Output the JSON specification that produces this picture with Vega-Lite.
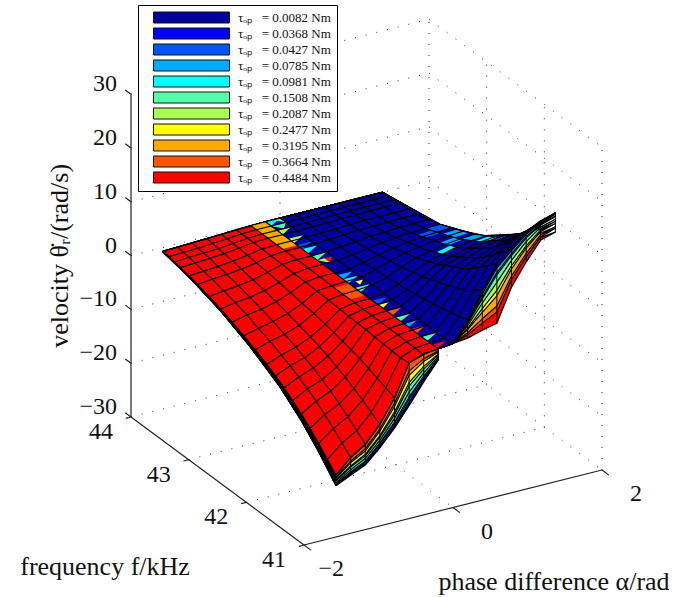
{"$schema":"https://vega.github.io/schema/vega-lite/v6.json","width":700,"height":597,"padding":0,"autosize":{"type":"none"},"background":"white","config":{"view":{"stroke":null}},
"datasets":{
"frame":[
{"id":"a1","a":-2,"f":41,"v":-30},{"id":"a1","a":2,"f":41,"v":-30},{"id":"a2","a":-2,"f":41,"v":-30},{"id":"a2","a":-2,"f":44,"v":-30},{"id":"a3","a":-2,"f":44,"v":-30},{"id":"a3","a":-2,"f":44,"v":30},
{"id":"t1","a":-2,"f":41,"v":-30},{"id":"t1","a":-2,"f":40.88,"v":-30},{"id":"t2","a":0,"f":41,"v":-30},{"id":"t2","a":0,"f":40.88,"v":-30},{"id":"t3","a":2,"f":41,"v":-30},{"id":"t3","a":2,"f":40.88,"v":-30},
{"id":"t4","a":-2,"f":41,"v":-30},{"id":"t4","a":-2.07,"f":41,"v":-30},{"id":"t5","a":-2,"f":42,"v":-30},{"id":"t5","a":-2.07,"f":42,"v":-30},{"id":"t6","a":-2,"f":43,"v":-30},{"id":"t6","a":-2.07,"f":43,"v":-30},{"id":"t7","a":-2,"f":44,"v":-30},{"id":"t7","a":-2.07,"f":44,"v":-30},
{"id":"z1","a":-2,"f":44,"v":-30},{"id":"z1","a":-2,"f":44.1,"v":-30},{"id":"z2","a":-2,"f":44,"v":-20},{"id":"z2","a":-2,"f":44.1,"v":-20},{"id":"z3","a":-2,"f":44,"v":-10},{"id":"z3","a":-2,"f":44.1,"v":-10},{"id":"z4","a":-2,"f":44,"v":0},{"id":"z4","a":-2,"f":44.1,"v":0},{"id":"z5","a":-2,"f":44,"v":10},{"id":"z5","a":-2,"f":44.1,"v":10},{"id":"z6","a":-2,"f":44,"v":20},{"id":"z6","a":-2,"f":44.1,"v":20},{"id":"z7","a":-2,"f":44,"v":30},{"id":"z7","a":-2,"f":44.1,"v":30}],
"dots":[
{"id":"f42","a":-2,"f":42,"v":-30},{"id":"f42","a":2,"f":42,"v":-30},{"id":"f43","a":-2,"f":43,"v":-30},{"id":"f43","a":2,"f":43,"v":-30},{"id":"f44","a":-2,"f":44,"v":-30},{"id":"f44","a":2,"f":44,"v":-30},
{"id":"fa0","a":0,"f":41,"v":-30},{"id":"fa0","a":0,"f":44,"v":-30},{"id":"fa2","a":2,"f":41,"v":-30},{"id":"fa2","a":2,"f":44,"v":-30},
{"id":"b1","a":-2,"f":44,"v":-20},{"id":"b1","a":2,"f":44,"v":-20},{"id":"b2","a":-2,"f":44,"v":-10},{"id":"b2","a":2,"f":44,"v":-10},{"id":"b3","a":-2,"f":44,"v":0},{"id":"b3","a":2,"f":44,"v":0},{"id":"b4","a":-2,"f":44,"v":10},{"id":"b4","a":2,"f":44,"v":10},{"id":"b5","a":-2,"f":44,"v":20},{"id":"b5","a":2,"f":44,"v":20},{"id":"b6","a":-2,"f":44,"v":30},{"id":"b6","a":2,"f":44,"v":30},
{"id":"b7","a":0,"f":44,"v":-30},{"id":"b7","a":0,"f":44,"v":30},{"id":"b8","a":2,"f":44,"v":-30},{"id":"b8","a":2,"f":44,"v":30},
{"id":"r1","a":2,"f":44,"v":-20},{"id":"r1","a":2,"f":41,"v":-20},{"id":"r2","a":2,"f":44,"v":-10},{"id":"r2","a":2,"f":41,"v":-10},{"id":"r3","a":2,"f":44,"v":0},{"id":"r3","a":2,"f":41,"v":0},{"id":"r4","a":2,"f":44,"v":10},{"id":"r4","a":2,"f":41,"v":10},{"id":"r5","a":2,"f":44,"v":20},{"id":"r5","a":2,"f":41,"v":20},{"id":"r6","a":2,"f":44,"v":30},{"id":"r6","a":2,"f":41,"v":30},
{"id":"r7","a":2,"f":41,"v":-30},{"id":"r7","a":2,"f":41,"v":30},{"id":"r8","a":2,"f":42,"v":-30},{"id":"r8","a":2,"f":42,"v":30},{"id":"r9","a":2,"f":43,"v":-30},{"id":"r9","a":2,"f":43,"v":30}],
"sheets":[
{"tau":"0.4484","s":"R","a":-0.196,"f":41,"v":0.2},{"tau":"0.4484","s":"R","a":0,"f":41,"v":0.5},{"tau":"0.4484","s":"R","a":0.196,"f":41,"v":0.8},{"tau":"0.4484","s":"R","a":0.393,"f":41,"v":1.6},{"tau":"0.4484","s":"R","a":0.589,"f":41,"v":2.2},{"tau":"0.4484","s":"R","a":0.785,"f":41,"v":8.2},{"tau":"0.4484","s":"R","a":0.982,"f":41,"v":12.2},{"tau":"0.4484","s":"R","a":1.178,"f":41,"v":15.6},{"tau":"0.4484","s":"R","a":1.374,"f":41,"v":16.4},{"tau":"0.4484","s":"R","a":1.374,"f":41.6,"v":9.3},{"tau":"0.4484","s":"R","a":1.374,"f":42.3,"v":4.5},{"tau":"0.4484","s":"R","a":1.374,"f":43,"v":1.6},{"tau":"0.4484","s":"R","a":1.374,"f":44,"v":0},{"tau":"0.4484","s":"R","a":-0.196,"f":44,"v":0},
{"tau":"0.3664","s":"R","a":-0.196,"f":41,"v":0.2},{"tau":"0.3664","s":"R","a":0,"f":41,"v":0.5},{"tau":"0.3664","s":"R","a":0.196,"f":41,"v":1.4},{"tau":"0.3664","s":"R","a":0.393,"f":41,"v":2.9},{"tau":"0.3664","s":"R","a":0.589,"f":41,"v":4.3},{"tau":"0.3664","s":"R","a":0.785,"f":41,"v":9.6},{"tau":"0.3664","s":"R","a":0.982,"f":41,"v":13.2},{"tau":"0.3664","s":"R","a":1.178,"f":41,"v":16.2},{"tau":"0.3664","s":"R","a":1.374,"f":41,"v":17.1},{"tau":"0.3664","s":"R","a":1.374,"f":41.6,"v":9.7},{"tau":"0.3664","s":"R","a":1.374,"f":42.3,"v":4.7},{"tau":"0.3664","s":"R","a":1.374,"f":43,"v":1.7},{"tau":"0.3664","s":"R","a":1.374,"f":44,"v":0},{"tau":"0.3664","s":"R","a":-0.196,"f":44,"v":0},
{"tau":"0.3195","s":"R","a":-0.196,"f":41,"v":0.2},{"tau":"0.3195","s":"R","a":0,"f":41,"v":0.5},{"tau":"0.3195","s":"R","a":0.196,"f":41,"v":1.8},{"tau":"0.3195","s":"R","a":0.393,"f":41,"v":3.7},{"tau":"0.3195","s":"R","a":0.589,"f":41,"v":5.4},{"tau":"0.3195","s":"R","a":0.785,"f":41,"v":10.3},{"tau":"0.3195","s":"R","a":0.982,"f":41,"v":13.8},{"tau":"0.3195","s":"R","a":1.178,"f":41,"v":16.6},{"tau":"0.3195","s":"R","a":1.374,"f":41,"v":17.4},{"tau":"0.3195","s":"R","a":1.374,"f":41.6,"v":9.9},{"tau":"0.3195","s":"R","a":1.374,"f":42.3,"v":4.8},{"tau":"0.3195","s":"R","a":1.374,"f":43,"v":1.7},{"tau":"0.3195","s":"R","a":1.374,"f":44,"v":0},{"tau":"0.3195","s":"R","a":-0.196,"f":44,"v":0},
{"tau":"0.2477","s":"R","a":-0.196,"f":41,"v":0.2},{"tau":"0.2477","s":"R","a":0,"f":41,"v":0.5},{"tau":"0.2477","s":"R","a":0.196,"f":41,"v":2.4},{"tau":"0.2477","s":"R","a":0.393,"f":41,"v":4.9},{"tau":"0.2477","s":"R","a":0.589,"f":41,"v":7.3},{"tau":"0.2477","s":"R","a":0.785,"f":41,"v":11.6},{"tau":"0.2477","s":"R","a":0.982,"f":41,"v":14.8},{"tau":"0.2477","s":"R","a":1.178,"f":41,"v":17.2},{"tau":"0.2477","s":"R","a":1.374,"f":41,"v":18},{"tau":"0.2477","s":"R","a":1.374,"f":41.6,"v":10.3},{"tau":"0.2477","s":"R","a":1.374,"f":42.3,"v":5},{"tau":"0.2477","s":"R","a":1.374,"f":43,"v":1.8},{"tau":"0.2477","s":"R","a":1.374,"f":44,"v":0},{"tau":"0.2477","s":"R","a":-0.196,"f":44,"v":0},
{"tau":"0.2087","s":"R","a":-0.196,"f":41,"v":0.2},{"tau":"0.2087","s":"R","a":0,"f":41,"v":0.5},{"tau":"0.2087","s":"R","a":0.196,"f":41,"v":2.6},{"tau":"0.2087","s":"R","a":0.393,"f":41,"v":5.6},{"tau":"0.2087","s":"R","a":0.589,"f":41,"v":8.3},{"tau":"0.2087","s":"R","a":0.785,"f":41,"v":12.2},{"tau":"0.2087","s":"R","a":0.982,"f":41,"v":15.2},{"tau":"0.2087","s":"R","a":1.178,"f":41,"v":17.5},{"tau":"0.2087","s":"R","a":1.374,"f":41,"v":18.4},{"tau":"0.2087","s":"R","a":1.374,"f":41.6,"v":10.5},{"tau":"0.2087","s":"R","a":1.374,"f":42.3,"v":5.1},{"tau":"0.2087","s":"R","a":1.374,"f":43,"v":1.8},{"tau":"0.2087","s":"R","a":1.374,"f":44,"v":0},{"tau":"0.2087","s":"R","a":-0.196,"f":44,"v":0},
{"tau":"0.1508","s":"R","a":-0.196,"f":41,"v":0.2},{"tau":"0.1508","s":"R","a":0,"f":41,"v":0.5},{"tau":"0.1508","s":"R","a":0.196,"f":41,"v":3.1},{"tau":"0.1508","s":"R","a":0.393,"f":41,"v":6.6},{"tau":"0.1508","s":"R","a":0.589,"f":41,"v":9.8},{"tau":"0.1508","s":"R","a":0.785,"f":41,"v":13.2},{"tau":"0.1508","s":"R","a":0.982,"f":41,"v":16},{"tau":"0.1508","s":"R","a":1.178,"f":41,"v":18},{"tau":"0.1508","s":"R","a":1.374,"f":41,"v":18.8},{"tau":"0.1508","s":"R","a":1.374,"f":41.6,"v":10.7},{"tau":"0.1508","s":"R","a":1.374,"f":42.3,"v":5.2},{"tau":"0.1508","s":"R","a":1.374,"f":43,"v":1.9},{"tau":"0.1508","s":"R","a":1.374,"f":44,"v":0},{"tau":"0.1508","s":"R","a":-0.196,"f":44,"v":0},
{"tau":"0.0981","s":"R","a":-0.196,"f":41,"v":0.2},{"tau":"0.0981","s":"R","a":0,"f":41,"v":0.5},{"tau":"0.0981","s":"R","a":0.196,"f":41,"v":3.5},{"tau":"0.0981","s":"R","a":0.393,"f":41,"v":7.4},{"tau":"0.0981","s":"R","a":0.589,"f":41,"v":11.2},{"tau":"0.0981","s":"R","a":0.785,"f":41,"v":14.1},{"tau":"0.0981","s":"R","a":0.982,"f":41,"v":16.7},{"tau":"0.0981","s":"R","a":1.178,"f":41,"v":18.4},{"tau":"0.0981","s":"R","a":1.374,"f":41,"v":19.3},{"tau":"0.0981","s":"R","a":1.374,"f":41.6,"v":11},{"tau":"0.0981","s":"R","a":1.374,"f":42.3,"v":5.3},{"tau":"0.0981","s":"R","a":1.374,"f":43,"v":1.9},{"tau":"0.0981","s":"R","a":1.374,"f":44,"v":0},{"tau":"0.0981","s":"R","a":-0.196,"f":44,"v":0},
{"tau":"0.0785","s":"R","a":-0.196,"f":41,"v":0.2},{"tau":"0.0785","s":"R","a":0,"f":41,"v":0.5},{"tau":"0.0785","s":"R","a":0.196,"f":41,"v":3.7},{"tau":"0.0785","s":"R","a":0.393,"f":41,"v":7.7},{"tau":"0.0785","s":"R","a":0.589,"f":41,"v":11.6},{"tau":"0.0785","s":"R","a":0.785,"f":41,"v":14.4},{"tau":"0.0785","s":"R","a":0.982,"f":41,"v":16.9},{"tau":"0.0785","s":"R","a":1.178,"f":41,"v":18.5},{"tau":"0.0785","s":"R","a":1.374,"f":41,"v":19.4},{"tau":"0.0785","s":"R","a":1.374,"f":41.6,"v":11.1},{"tau":"0.0785","s":"R","a":1.374,"f":42.3,"v":5.3},{"tau":"0.0785","s":"R","a":1.374,"f":43,"v":1.9},{"tau":"0.0785","s":"R","a":1.374,"f":44,"v":0},{"tau":"0.0785","s":"R","a":-0.196,"f":44,"v":0},
{"tau":"0.0427","s":"R","a":-0.196,"f":41,"v":0.2},{"tau":"0.0427","s":"R","a":0,"f":41,"v":0.5},{"tau":"0.0427","s":"R","a":0.196,"f":41,"v":3.9},{"tau":"0.0427","s":"R","a":0.393,"f":41,"v":8.3},{"tau":"0.0427","s":"R","a":0.589,"f":41,"v":12.5},{"tau":"0.0427","s":"R","a":0.785,"f":41,"v":15},{"tau":"0.0427","s":"R","a":0.982,"f":41,"v":17.4},{"tau":"0.0427","s":"R","a":1.178,"f":41,"v":18.8},{"tau":"0.0427","s":"R","a":1.374,"f":41,"v":19.7},{"tau":"0.0427","s":"R","a":1.374,"f":41.6,"v":11.2},{"tau":"0.0427","s":"R","a":1.374,"f":42.3,"v":5.4},{"tau":"0.0427","s":"R","a":1.374,"f":43,"v":2},{"tau":"0.0427","s":"R","a":1.374,"f":44,"v":0},{"tau":"0.0427","s":"R","a":-0.196,"f":44,"v":0},
{"tau":"0.0368","s":"R","a":-0.196,"f":41,"v":0.2},{"tau":"0.0368","s":"R","a":0,"f":41,"v":0.5},{"tau":"0.0368","s":"R","a":0.196,"f":41,"v":4},{"tau":"0.0368","s":"R","a":0.393,"f":41,"v":8.4},{"tau":"0.0368","s":"R","a":0.589,"f":41,"v":12.7},{"tau":"0.0368","s":"R","a":0.785,"f":41,"v":15.1},{"tau":"0.0368","s":"R","a":0.982,"f":41,"v":17.4},{"tau":"0.0368","s":"R","a":1.178,"f":41,"v":18.9},{"tau":"0.0368","s":"R","a":1.374,"f":41,"v":19.8},{"tau":"0.0368","s":"R","a":1.374,"f":41.6,"v":11.3},{"tau":"0.0368","s":"R","a":1.374,"f":42.3,"v":5.4},{"tau":"0.0368","s":"R","a":1.374,"f":43,"v":2},{"tau":"0.0368","s":"R","a":1.374,"f":44,"v":0},{"tau":"0.0368","s":"R","a":-0.196,"f":44,"v":0},
{"tau":"0.0082","s":"R","a":-0.196,"f":41,"v":0.2},{"tau":"0.0082","s":"R","a":0,"f":41,"v":0.5},{"tau":"0.0082","s":"R","a":0.196,"f":41,"v":4.2},{"tau":"0.0082","s":"R","a":0.393,"f":41,"v":8.9},{"tau":"0.0082","s":"R","a":0.589,"f":41,"v":13.4},{"tau":"0.0082","s":"R","a":0.785,"f":41,"v":15.6},{"tau":"0.0082","s":"R","a":0.982,"f":41,"v":17.8},{"tau":"0.0082","s":"R","a":1.178,"f":41,"v":19.1},{"tau":"0.0082","s":"R","a":1.374,"f":41,"v":20},{"tau":"0.0082","s":"R","a":1.374,"f":41.3,"v":15.2},{"tau":"0.0082","s":"R","a":1.374,"f":41.6,"v":11.4},{"tau":"0.0082","s":"R","a":1.374,"f":41.9,"v":8.6},{"tau":"0.0082","s":"R","a":1.374,"f":42.2,"v":6.2},{"tau":"0.0082","s":"R","a":1.374,"f":42.6,"v":3.9},{"tau":"0.0082","s":"R","a":1.374,"f":43,"v":2},{"tau":"0.0082","s":"R","a":1.374,"f":43.4,"v":0.7},{"tau":"0.0082","s":"R","a":1.374,"f":44,"v":0},{"tau":"0.0082","s":"R","a":-0.196,"f":44,"v":0},
{"tau":"0.0082","s":"L","a":-1.571,"f":41,"v":-20.5},{"tau":"0.0082","s":"L","a":-1.374,"f":41,"v":-19.2},{"tau":"0.0082","s":"L","a":-1.178,"f":41,"v":-18},{"tau":"0.0082","s":"L","a":-0.982,"f":41,"v":-15.5},{"tau":"0.0082","s":"L","a":-0.785,"f":41,"v":-12.5},{"tau":"0.0082","s":"L","a":-0.589,"f":41,"v":-9},{"tau":"0.0082","s":"L","a":-0.393,"f":41,"v":-5.3},{"tau":"0.0082","s":"L","a":-0.196,"f":41,"v":-1.9},{"tau":"0.0082","s":"L","a":-0.196,"f":44,"v":0},{"tau":"0.0082","s":"L","a":-1.571,"f":44,"v":-0.8},{"tau":"0.0082","s":"L","a":-1.571,"f":43.5,"v":-2.1},{"tau":"0.0082","s":"L","a":-1.571,"f":43,"v":-3.9},{"tau":"0.0082","s":"L","a":-1.571,"f":42.5,"v":-6.4},{"tau":"0.0082","s":"L","a":-1.571,"f":42,"v":-9.6},{"tau":"0.0082","s":"L","a":-1.571,"f":41.6,"v":-13.2},{"tau":"0.0082","s":"L","a":-1.571,"f":41.3,"v":-16.6},{"tau":"0.0082","s":"L","a":-1.571,"f":41,"v":-20.5},
{"tau":"0.0368","s":"L","a":-1.571,"f":41,"v":-20.4},{"tau":"0.0368","s":"L","a":-1.374,"f":41,"v":-19},{"tau":"0.0368","s":"L","a":-1.178,"f":41,"v":-17.8},{"tau":"0.0368","s":"L","a":-0.982,"f":41,"v":-15.2},{"tau":"0.0368","s":"L","a":-0.785,"f":41,"v":-12.1},{"tau":"0.0368","s":"L","a":-0.589,"f":41,"v":-8.5},{"tau":"0.0368","s":"L","a":-0.393,"f":41,"v":-5},{"tau":"0.0368","s":"L","a":-0.196,"f":41,"v":-1.8},{"tau":"0.0368","s":"L","a":-0.196,"f":44,"v":0},{"tau":"0.0368","s":"L","a":-1.571,"f":44,"v":-0.8},{"tau":"0.0368","s":"L","a":-1.571,"f":43.5,"v":-2},{"tau":"0.0368","s":"L","a":-1.571,"f":43,"v":-3.9},{"tau":"0.0368","s":"L","a":-1.571,"f":42.5,"v":-6.4},{"tau":"0.0368","s":"L","a":-1.571,"f":42,"v":-9.6},{"tau":"0.0368","s":"L","a":-1.571,"f":41.6,"v":-13.1},{"tau":"0.0368","s":"L","a":-1.571,"f":41.3,"v":-16.5},{"tau":"0.0368","s":"L","a":-1.571,"f":41,"v":-20.4},
{"tau":"0.0427","s":"L","a":-1.571,"f":41,"v":-20.3},{"tau":"0.0427","s":"L","a":-1.374,"f":41,"v":-18.9},{"tau":"0.0427","s":"L","a":-1.178,"f":41,"v":-17.7},{"tau":"0.0427","s":"L","a":-0.982,"f":41,"v":-15.2},{"tau":"0.0427","s":"L","a":-0.785,"f":41,"v":-12.1},{"tau":"0.0427","s":"L","a":-0.589,"f":41,"v":-8.4},{"tau":"0.0427","s":"L","a":-0.393,"f":41,"v":-4.9},{"tau":"0.0427","s":"L","a":-0.196,"f":41,"v":-1.7},{"tau":"0.0427","s":"L","a":-0.196,"f":44,"v":0},{"tau":"0.0427","s":"L","a":-1.571,"f":44,"v":-0.8},{"tau":"0.0427","s":"L","a":-1.571,"f":43.5,"v":-2},{"tau":"0.0427","s":"L","a":-1.571,"f":43,"v":-3.8},{"tau":"0.0427","s":"L","a":-1.571,"f":42.5,"v":-6.4},{"tau":"0.0427","s":"L","a":-1.571,"f":42,"v":-9.5},{"tau":"0.0427","s":"L","a":-1.571,"f":41.6,"v":-13.1},{"tau":"0.0427","s":"L","a":-1.571,"f":41.3,"v":-16.5},{"tau":"0.0427","s":"L","a":-1.571,"f":41,"v":-20.3},
{"tau":"0.0785","s":"L","a":-1.571,"f":41,"v":-20.2},{"tau":"0.0785","s":"L","a":-1.374,"f":41,"v":-18.7},{"tau":"0.0785","s":"L","a":-1.178,"f":41,"v":-17.4},{"tau":"0.0785","s":"L","a":-0.982,"f":41,"v":-14.8},{"tau":"0.0785","s":"L","a":-0.785,"f":41,"v":-11.6},{"tau":"0.0785","s":"L","a":-0.589,"f":41,"v":-7.7},{"tau":"0.0785","s":"L","a":-0.393,"f":41,"v":-4.5},{"tau":"0.0785","s":"L","a":-0.196,"f":41,"v":-1.6},{"tau":"0.0785","s":"L","a":-0.196,"f":44,"v":0},{"tau":"0.0785","s":"L","a":-1.571,"f":44,"v":-0.8},{"tau":"0.0785","s":"L","a":-1.571,"f":43.5,"v":-2},{"tau":"0.0785","s":"L","a":-1.571,"f":43,"v":-3.8},{"tau":"0.0785","s":"L","a":-1.571,"f":42.5,"v":-6.3},{"tau":"0.0785","s":"L","a":-1.571,"f":42,"v":-9.5},{"tau":"0.0785","s":"L","a":-1.571,"f":41.6,"v":-13},{"tau":"0.0785","s":"L","a":-1.571,"f":41.3,"v":-16.4},{"tau":"0.0785","s":"L","a":-1.571,"f":41,"v":-20.2},
{"tau":"0.0981","s":"L","a":-1.571,"f":41,"v":-20.1},{"tau":"0.0981","s":"L","a":-1.374,"f":41,"v":-18.6},{"tau":"0.0981","s":"L","a":-1.178,"f":41,"v":-17.3},{"tau":"0.0981","s":"L","a":-0.982,"f":41,"v":-14.6},{"tau":"0.0981","s":"L","a":-0.785,"f":41,"v":-11.4},{"tau":"0.0981","s":"L","a":-0.589,"f":41,"v":-7.4},{"tau":"0.0981","s":"L","a":-0.393,"f":41,"v":-4.2},{"tau":"0.0981","s":"L","a":-0.196,"f":41,"v":-1.5},{"tau":"0.0981","s":"L","a":-0.196,"f":44,"v":0},{"tau":"0.0981","s":"L","a":-1.571,"f":44,"v":-0.8},{"tau":"0.0981","s":"L","a":-1.571,"f":43.5,"v":-2},{"tau":"0.0981","s":"L","a":-1.571,"f":43,"v":-3.8},{"tau":"0.0981","s":"L","a":-1.571,"f":42.5,"v":-6.3},{"tau":"0.0981","s":"L","a":-1.571,"f":42,"v":-9.4},{"tau":"0.0981","s":"L","a":-1.571,"f":41.6,"v":-12.9},{"tau":"0.0981","s":"L","a":-1.571,"f":41.3,"v":-16.3},{"tau":"0.0981","s":"L","a":-1.571,"f":41,"v":-20.1},
{"tau":"0.1508","s":"L","a":-1.571,"f":41,"v":-19.9},{"tau":"0.1508","s":"L","a":-1.374,"f":41,"v":-18.2},{"tau":"0.1508","s":"L","a":-1.178,"f":41,"v":-16.8},{"tau":"0.1508","s":"L","a":-0.982,"f":41,"v":-14.1},{"tau":"0.1508","s":"L","a":-0.785,"f":41,"v":-10.7},{"tau":"0.1508","s":"L","a":-0.589,"f":41,"v":-6.5},{"tau":"0.1508","s":"L","a":-0.393,"f":41,"v":-3.6},{"tau":"0.1508","s":"L","a":-0.196,"f":41,"v":-1.2},{"tau":"0.1508","s":"L","a":-0.196,"f":44,"v":0},{"tau":"0.1508","s":"L","a":-1.571,"f":44,"v":-0.8},{"tau":"0.1508","s":"L","a":-1.571,"f":43.5,"v":-2},{"tau":"0.1508","s":"L","a":-1.571,"f":43,"v":-3.8},{"tau":"0.1508","s":"L","a":-1.571,"f":42.5,"v":-6.2},{"tau":"0.1508","s":"L","a":-1.571,"f":42,"v":-9.4},{"tau":"0.1508","s":"L","a":-1.571,"f":41.6,"v":-12.8},{"tau":"0.1508","s":"L","a":-1.571,"f":41.3,"v":-16.1},{"tau":"0.1508","s":"L","a":-1.571,"f":41,"v":-19.9},
{"tau":"0.2087","s":"L","a":-1.571,"f":41,"v":-19.6},{"tau":"0.2087","s":"L","a":-1.374,"f":41,"v":-17.7},{"tau":"0.2087","s":"L","a":-1.178,"f":41,"v":-16.3},{"tau":"0.2087","s":"L","a":-0.982,"f":41,"v":-13.5},{"tau":"0.2087","s":"L","a":-0.785,"f":41,"v":-10},{"tau":"0.2087","s":"L","a":-0.589,"f":41,"v":-5.4},{"tau":"0.2087","s":"L","a":-0.393,"f":41,"v":-2.9},{"tau":"0.2087","s":"L","a":-0.196,"f":41,"v":-0.9},{"tau":"0.2087","s":"L","a":-0.196,"f":44,"v":0},{"tau":"0.2087","s":"L","a":-1.571,"f":44,"v":-0.7},{"tau":"0.2087","s":"L","a":-1.571,"f":43.5,"v":-2},{"tau":"0.2087","s":"L","a":-1.571,"f":43,"v":-3.7},{"tau":"0.2087","s":"L","a":-1.571,"f":42.5,"v":-6.1},{"tau":"0.2087","s":"L","a":-1.571,"f":42,"v":-9.2},{"tau":"0.2087","s":"L","a":-1.571,"f":41.6,"v":-12.6},{"tau":"0.2087","s":"L","a":-1.571,"f":41.3,"v":-15.9},{"tau":"0.2087","s":"L","a":-1.571,"f":41,"v":-19.6},
{"tau":"0.2477","s":"L","a":-1.571,"f":41,"v":-19.4},{"tau":"0.2477","s":"L","a":-1.374,"f":41,"v":-17.5},{"tau":"0.2477","s":"L","a":-1.178,"f":41,"v":-16},{"tau":"0.2477","s":"L","a":-0.982,"f":41,"v":-13.2},{"tau":"0.2477","s":"L","a":-0.785,"f":41,"v":-9.5},{"tau":"0.2477","s":"L","a":-0.589,"f":41,"v":-4.7},{"tau":"0.2477","s":"L","a":-0.393,"f":41,"v":-2.4},{"tau":"0.2477","s":"L","a":-0.196,"f":41,"v":-0.8},{"tau":"0.2477","s":"L","a":-0.196,"f":44,"v":0},{"tau":"0.2477","s":"L","a":-1.571,"f":44,"v":-0.7},{"tau":"0.2477","s":"L","a":-1.571,"f":43.5,"v":-1.9},{"tau":"0.2477","s":"L","a":-1.571,"f":43,"v":-3.7},{"tau":"0.2477","s":"L","a":-1.571,"f":42.5,"v":-6.1},{"tau":"0.2477","s":"L","a":-1.571,"f":42,"v":-9.1},{"tau":"0.2477","s":"L","a":-1.571,"f":41.6,"v":-12.5},{"tau":"0.2477","s":"L","a":-1.571,"f":41.3,"v":-15.7},{"tau":"0.2477","s":"L","a":-1.571,"f":41,"v":-19.4},
{"tau":"0.3195","s":"L","a":-1.571,"f":41,"v":-19.1},{"tau":"0.3195","s":"L","a":-1.374,"f":41,"v":-16.9},{"tau":"0.3195","s":"L","a":-1.178,"f":41,"v":-15.4},{"tau":"0.3195","s":"L","a":-0.982,"f":41,"v":-12.4},{"tau":"0.3195","s":"L","a":-0.785,"f":41,"v":-8.5},{"tau":"0.3195","s":"L","a":-0.589,"f":41,"v":-3.4},{"tau":"0.3195","s":"L","a":-0.393,"f":41,"v":-1.5},{"tau":"0.3195","s":"L","a":-0.196,"f":41,"v":-0.4},{"tau":"0.3195","s":"L","a":-0.196,"f":44,"v":0},{"tau":"0.3195","s":"L","a":-1.571,"f":44,"v":-0.7},{"tau":"0.3195","s":"L","a":-1.571,"f":43.5,"v":-1.9},{"tau":"0.3195","s":"L","a":-1.571,"f":43,"v":-3.6},{"tau":"0.3195","s":"L","a":-1.571,"f":42.5,"v":-6},{"tau":"0.3195","s":"L","a":-1.571,"f":42,"v":-9},{"tau":"0.3195","s":"L","a":-1.571,"f":41.6,"v":-12.3},{"tau":"0.3195","s":"L","a":-1.571,"f":41.3,"v":-15.5},{"tau":"0.3195","s":"L","a":-1.571,"f":41,"v":-19.1},
{"tau":"0.3664","s":"L","a":-1.571,"f":41,"v":-18.9},{"tau":"0.3664","s":"L","a":-1.374,"f":41,"v":-16.6},{"tau":"0.3664","s":"L","a":-1.178,"f":41,"v":-15},{"tau":"0.3664","s":"L","a":-0.982,"f":41,"v":-12},{"tau":"0.3664","s":"L","a":-0.785,"f":41,"v":-7.9},{"tau":"0.3664","s":"L","a":-0.589,"f":41,"v":-2.6},{"tau":"0.3664","s":"L","a":-0.393,"f":41,"v":-1},{"tau":"0.3664","s":"L","a":-0.196,"f":41,"v":-0.2},{"tau":"0.3664","s":"L","a":-0.196,"f":44,"v":0},{"tau":"0.3664","s":"L","a":-1.571,"f":44,"v":-0.7},{"tau":"0.3664","s":"L","a":-1.571,"f":43.5,"v":-1.9},{"tau":"0.3664","s":"L","a":-1.571,"f":43,"v":-3.6},{"tau":"0.3664","s":"L","a":-1.571,"f":42.5,"v":-5.9},{"tau":"0.3664","s":"L","a":-1.571,"f":42,"v":-8.9},{"tau":"0.3664","s":"L","a":-1.571,"f":41.6,"v":-12.2},{"tau":"0.3664","s":"L","a":-1.571,"f":41.3,"v":-15.3},{"tau":"0.3664","s":"L","a":-1.571,"f":41,"v":-18.9},
{"tau":"0.4484","s":"L","a":-1.571,"f":41,"v":-18.5},{"tau":"0.4484","s":"L","a":-1.374,"f":41,"v":-16},{"tau":"0.4484","s":"L","a":-1.178,"f":41,"v":-14.3},{"tau":"0.4484","s":"L","a":-0.982,"f":41,"v":-11.2},{"tau":"0.4484","s":"L","a":-0.785,"f":41,"v":-6.9},{"tau":"0.4484","s":"L","a":-0.589,"f":41,"v":-1.1},{"tau":"0.4484","s":"L","a":-0.393,"f":41,"v":0},{"tau":"0.4484","s":"L","a":-0.196,"f":41,"v":0.2},{"tau":"0.4484","s":"L","a":-0.196,"f":44,"v":0},{"tau":"0.4484","s":"L","a":-1.571,"f":44,"v":-0.7},{"tau":"0.4484","s":"L","a":-1.571,"f":43.5,"v":-1.85},{"tau":"0.4484","s":"L","a":-1.571,"f":43,"v":-3.5},{"tau":"0.4484","s":"L","a":-1.571,"f":42.5,"v":-5.8},{"tau":"0.4484","s":"L","a":-1.571,"f":42,"v":-8.7},{"tau":"0.4484","s":"L","a":-1.571,"f":41.6,"v":-11.9},{"tau":"0.4484","s":"L","a":-1.571,"f":41.3,"v":-15},{"tau":"0.4484","s":"L","a":-1.571,"f":41,"v":-18.5}],
"patches":[
{"tau":"0.3195","s":"o1","a":-0.393,"f":44,"v":0},{"tau":"0.3195","s":"o1","a":-0.196,"f":44,"v":0},{"tau":"0.3195","s":"o1","a":-0.196,"f":43.45,"v":0},{"tau":"0.3195","s":"o1","a":-0.393,"f":43.45,"v":0},
{"tau":"0.3664","s":"o2","a":-0.393,"f":42.55,"v":-0.1},{"tau":"0.3664","s":"o2","a":-0.196,"f":42.55,"v":0},{"tau":"0.3664","s":"o2","a":-0.196,"f":42.28,"v":0},{"tau":"0.3664","s":"o2","a":-0.393,"f":42.28,"v":-0.1},
{"tau":"0.0981","s":"j1","a":-0.196,"f":44,"v":0},{"tau":"0.0981","s":"j1","a":0,"f":44,"v":0},{"tau":"0.0981","s":"j1","a":-0.196,"f":43.9,"v":0},
{"tau":"0.1508","s":"j2","a":-0.1,"f":44,"v":0},{"tau":"0.1508","s":"j2","a":0,"f":44,"v":0},{"tau":"0.1508","s":"j2","a":0,"f":43.9,"v":0},{"tau":"0.1508","s":"j2b","a":-0.196,"f":43.9,"v":0},{"tau":"0.1508","s":"j2b","a":0,"f":43.9,"v":0},{"tau":"0.1508","s":"j2b","a":-0.1,"f":43.8,"v":0},
{"tau":"0.2087","s":"j3","a":-0.196,"f":43.8,"v":0},{"tau":"0.2087","s":"j3","a":0,"f":43.8,"v":0},{"tau":"0.2087","s":"j3","a":-0.196,"f":43.7,"v":0},
{"tau":"0.2087","s":"j4","a":-0.196,"f":43.6,"v":0},{"tau":"0.2087","s":"j4","a":0,"f":43.6,"v":0},{"tau":"0.2087","s":"j4","a":-0.196,"f":43.5,"v":0},
{"tau":"0.0427","s":"j5","a":-0.196,"f":43.45,"v":0},{"tau":"0.0427","s":"j5","a":0,"f":43.45,"v":0},{"tau":"0.0427","s":"j5","a":-0.196,"f":43.36,"v":0},
{"tau":"0.0981","s":"j6","a":-0.196,"f":43.36,"v":0},{"tau":"0.0981","s":"j6","a":0,"f":43.36,"v":0},{"tau":"0.0981","s":"j6","a":-0.196,"f":43.26,"v":0},
{"tau":"0.1508","s":"j7","a":-0.196,"f":43.2,"v":0},{"tau":"0.1508","s":"j7","a":0,"f":43.2,"v":0},{"tau":"0.1508","s":"j7","a":-0.196,"f":43.1,"v":0},
{"tau":"0.4484","s":"j8","a":-0.1,"f":43.1,"v":0},{"tau":"0.4484","s":"j8","a":0,"f":43.1,"v":0},{"tau":"0.4484","s":"j8","a":-0.1,"f":43,"v":0},{"tau":"0.2087","s":"j8b","a":-0.196,"f":43.1,"v":0},{"tau":"0.2087","s":"j8b","a":-0.1,"f":43.1,"v":0},{"tau":"0.2087","s":"j8b","a":-0.1,"f":43,"v":0},
{"tau":"0.0785","s":"j9","a":-0.196,"f":42.75,"v":0},{"tau":"0.0785","s":"j9","a":0,"f":42.75,"v":0},{"tau":"0.0785","s":"j9","a":-0.196,"f":42.65,"v":0},
{"tau":"0.0981","s":"j10","a":-0.196,"f":42.65,"v":0},{"tau":"0.0981","s":"j10","a":0,"f":42.65,"v":0},{"tau":"0.0981","s":"j10","a":-0.196,"f":42.56,"v":0},
{"tau":"0.2477","s":"j11","a":-0.1,"f":42.56,"v":0},{"tau":"0.2477","s":"j11","a":0,"f":42.56,"v":0},{"tau":"0.2477","s":"j11","a":-0.1,"f":42.48,"v":0},
{"tau":"0.1508","s":"j12","a":-0.196,"f":42.45,"v":0},{"tau":"0.1508","s":"j12","a":0,"f":42.45,"v":0},{"tau":"0.1508","s":"j12","a":-0.196,"f":42.35,"v":0},
{"tau":"0.0427","s":"j13","a":-0.196,"f":42.15,"v":0},{"tau":"0.0427","s":"j13","a":0,"f":42.15,"v":0},{"tau":"0.0427","s":"j13","a":-0.196,"f":42.05,"v":0},
{"tau":"0.2477","s":"j14","a":-0.196,"f":42.05,"v":0},{"tau":"0.2477","s":"j14","a":-0.05,"f":42.05,"v":0},{"tau":"0.2477","s":"j14","a":-0.196,"f":41.97,"v":0},
{"tau":"0.3664","s":"j15","a":-0.196,"f":41.9,"v":0},{"tau":"0.3664","s":"j15","a":0,"f":41.9,"v":0},{"tau":"0.3664","s":"j15","a":-0.196,"f":41.8,"v":0},
{"tau":"0.1508","s":"j16","a":-0.196,"f":41.75,"v":0},{"tau":"0.1508","s":"j16","a":0,"f":41.75,"v":0},{"tau":"0.1508","s":"j16","a":-0.196,"f":41.66,"v":0},
{"tau":"0.0785","s":"j17","a":-0.196,"f":41.62,"v":0},{"tau":"0.0785","s":"j17","a":0,"f":41.62,"v":0},{"tau":"0.0785","s":"j17","a":-0.196,"f":41.52,"v":0},
{"tau":"0.3664","s":"j18","a":-0.196,"f":41.48,"v":0},{"tau":"0.3664","s":"j18","a":0,"f":41.48,"v":0},{"tau":"0.3664","s":"j18","a":-0.196,"f":41.38,"v":0},
{"tau":"0.1508","s":"j19","a":-0.196,"f":41.3,"v":0},{"tau":"0.1508","s":"j19","a":0,"f":41.3,"v":0},{"tau":"0.1508","s":"j19","a":-0.196,"f":41.2,"v":0},
{"tau":"0.4484","s":"j20","a":-0.196,"f":41.12,"v":0},{"tau":"0.4484","s":"j20","a":0,"f":41.12,"v":0},{"tau":"0.4484","s":"j20","a":-0.196,"f":41.02,"v":0.1},
{"tau":"0.0427","s":"p1","a":1.178,"f":43,"v":1.9},{"tau":"0.0427","s":"p1","a":1.374,"f":43,"v":2},{"tau":"0.0427","s":"p1","a":1.374,"f":42.8,"v":2.9},{"tau":"0.0427","s":"p1","a":1.178,"f":42.8,"v":2.8},
{"tau":"0.0785","s":"p2","a":1.178,"f":42.7,"v":3.3},{"tau":"0.0785","s":"p2","a":1.374,"f":42.7,"v":3.4},{"tau":"0.0785","s":"p2","a":1.374,"f":42.5,"v":4.4},{"tau":"0.0785","s":"p2","a":1.178,"f":42.5,"v":4.2},
{"tau":"0.0785","s":"p3","a":1.178,"f":42.4,"v":4.7},{"tau":"0.0785","s":"p3","a":1.374,"f":42.4,"v":4.9},{"tau":"0.0785","s":"p3","a":1.374,"f":42.2,"v":6.2},{"tau":"0.0785","s":"p3","a":1.178,"f":42.2,"v":6},
{"tau":"0.0981","s":"p4","a":1.178,"f":42.15,"v":6.2},{"tau":"0.0981","s":"p4","a":1.374,"f":42.15,"v":6.5},{"tau":"0.0981","s":"p4","a":1.374,"f":41.95,"v":8.1},{"tau":"0.0981","s":"p4","a":1.178,"f":41.95,"v":7.8},
{"tau":"0.0427","s":"p5","a":0.982,"f":42.9,"v":2.1},{"tau":"0.0427","s":"p5","a":1.178,"f":42.9,"v":2.3},{"tau":"0.0427","s":"p5","a":1.178,"f":42.75,"v":3},{"tau":"0.0427","s":"p5","a":0.982,"f":42.75,"v":2.8},
{"tau":"0.0785","s":"p6","a":0.982,"f":42.5,"v":3.9},{"tau":"0.0785","s":"p6","a":1.178,"f":42.5,"v":4.2},{"tau":"0.0785","s":"p6","a":1.178,"f":42.35,"v":5},{"tau":"0.0785","s":"p6","a":0.982,"f":42.35,"v":4.6},
{"tau":"0.0981","s":"p7","a":0.785,"f":42.3,"v":4.4},{"tau":"0.0981","s":"p7","a":0.982,"f":42.3,"v":5},{"tau":"0.0981","s":"p7","a":0.982,"f":42.2,"v":5.5},{"tau":"0.0981","s":"p7","a":0.785,"f":42.2,"v":4.8},
{"tau":"0.0427","s":"p8","a":1.178,"f":41.9,"v":8.3},{"tau":"0.0427","s":"p8","a":1.374,"f":41.9,"v":8.6},{"tau":"0.0427","s":"p8","a":1.374,"f":41.8,"v":9.5},{"tau":"0.0427","s":"p8","a":1.178,"f":41.8,"v":9.1}],
"grid":[
{"a":-1.571,"f":41,"v":-18.5},{"a":-1.374,"f":41,"v":-15.9},{"a":-1.178,"f":41,"v":-14.1},{"a":-0.982,"f":41,"v":-11.1},{"a":-0.785,"f":41,"v":-6.9},{"a":-0.589,"f":41,"v":-1.1},{"a":-0.393,"f":41,"v":-0.2},{"a":-0.196,"f":41,"v":0.2},{"a":0,"f":41,"v":0.5},{"a":0.196,"f":41,"v":4.2},{"a":0.393,"f":41,"v":9},{"a":0.589,"f":41,"v":13.4},{"a":0.785,"f":41,"v":15.6},{"a":0.982,"f":41,"v":17.8},{"a":1.178,"f":41,"v":19.2},{"a":1.374,"f":41,"v":20},
{"a":-1.571,"f":41.15,"v":-16.8},{"a":-1.374,"f":41.15,"v":-14.4},{"a":-1.178,"f":41.15,"v":-12.8},{"a":-0.982,"f":41.15,"v":-10.1},{"a":-0.785,"f":41.15,"v":-6.2},{"a":-0.589,"f":41.15,"v":-1.3},{"a":-0.393,"f":41.15,"v":-0.2},{"a":-0.196,"f":41.15,"v":0.1},{"a":0,"f":41.15,"v":0.3},{"a":0.196,"f":41.15,"v":3.7},{"a":0.393,"f":41.15,"v":7.9},{"a":0.589,"f":41.15,"v":11.7},{"a":0.785,"f":41.15,"v":13.7},{"a":0.982,"f":41.15,"v":15.6},{"a":1.178,"f":41.15,"v":16.8},{"a":1.374,"f":41.15,"v":17.5},
{"a":-1.571,"f":41.3,"v":-15},{"a":-1.374,"f":41.3,"v":-12.9},{"a":-1.178,"f":41.3,"v":-11.4},{"a":-0.982,"f":41.3,"v":-9},{"a":-0.785,"f":41.3,"v":-5.6},{"a":-0.589,"f":41.3,"v":-1.2},{"a":-0.393,"f":41.3,"v":-0.2},{"a":-0.196,"f":41.3,"v":0.1},{"a":0,"f":41.3,"v":0.3},{"a":0.196,"f":41.3,"v":3.2},{"a":0.393,"f":41.3,"v":6.8},{"a":0.589,"f":41.3,"v":10.2},{"a":0.785,"f":41.3,"v":11.9},{"a":0.982,"f":41.3,"v":13.5},{"a":1.178,"f":41.3,"v":14.6},{"a":1.374,"f":41.3,"v":15.2},
{"a":-1.571,"f":41.45,"v":-13.4},{"a":-1.374,"f":41.45,"v":-11.5},{"a":-1.178,"f":41.45,"v":-10.2},{"a":-0.982,"f":41.45,"v":-8},{"a":-0.785,"f":41.45,"v":-5},{"a":-0.589,"f":41.45,"v":-1.1},{"a":-0.393,"f":41.45,"v":-0.1},{"a":-0.196,"f":41.45,"v":0.1},{"a":0,"f":41.45,"v":0.3},{"a":0.196,"f":41.45,"v":2.8},{"a":0.393,"f":41.45,"v":5.9},{"a":0.589,"f":41.45,"v":8.8},{"a":0.785,"f":41.45,"v":10.3},{"a":0.982,"f":41.45,"v":11.7},{"a":1.178,"f":41.45,"v":12.7},{"a":1.374,"f":41.45,"v":13.2},
{"a":-1.571,"f":41.6,"v":-11.9},{"a":-1.374,"f":41.6,"v":-10.2},{"a":-1.178,"f":41.6,"v":-9},{"a":-0.982,"f":41.6,"v":-7.1},{"a":-0.785,"f":41.6,"v":-4.4},{"a":-0.589,"f":41.6,"v":-1},{"a":-0.393,"f":41.6,"v":-0.1},{"a":-0.196,"f":41.6,"v":0.1},{"a":0,"f":41.6,"v":0.3},{"a":0.196,"f":41.6,"v":2.4},{"a":0.393,"f":41.6,"v":5.1},{"a":0.589,"f":41.6,"v":7.6},{"a":0.785,"f":41.6,"v":8.9},{"a":0.982,"f":41.6,"v":10.1},{"a":1.178,"f":41.6,"v":10.9},{"a":1.374,"f":41.6,"v":11.4},
{"a":-1.571,"f":41.75,"v":-10.6},{"a":-1.374,"f":41.75,"v":-9.1},{"a":-1.178,"f":41.75,"v":-8.1},{"a":-0.982,"f":41.75,"v":-6.4},{"a":-0.785,"f":41.75,"v":-3.9},{"a":-0.589,"f":41.75,"v":-0.8},{"a":-0.393,"f":41.75,"v":-0.1},{"a":-0.196,"f":41.75,"v":0.1},{"a":0,"f":41.75,"v":0.3},{"a":0.196,"f":41.75,"v":2.1},{"a":0.393,"f":41.75,"v":4.5},{"a":0.589,"f":41.75,"v":6.7},{"a":0.785,"f":41.75,"v":7.8},{"a":0.982,"f":41.75,"v":8.9},{"a":1.178,"f":41.75,"v":9.6},{"a":1.374,"f":41.75,"v":10},
{"a":-1.571,"f":41.9,"v":-9.4},{"a":-1.374,"f":41.9,"v":-8.1},{"a":-1.178,"f":41.9,"v":-7.1},{"a":-0.982,"f":41.9,"v":-5.6},{"a":-0.785,"f":41.9,"v":-3.5},{"a":-0.589,"f":41.9,"v":-0.8},{"a":-0.393,"f":41.9,"v":-0.1},{"a":-0.196,"f":41.9,"v":0.1},{"a":0,"f":41.9,"v":0.3},{"a":0.196,"f":41.9,"v":1.8},{"a":0.393,"f":41.9,"v":3.9},{"a":0.589,"f":41.9,"v":5.8},{"a":0.785,"f":41.9,"v":6.7},{"a":0.982,"f":41.9,"v":7.7},{"a":1.178,"f":41.9,"v":8.3},{"a":1.374,"f":41.9,"v":8.6},
{"a":-1.571,"f":42.05,"v":-8.4},{"a":-1.374,"f":42.05,"v":-7.2},{"a":-1.178,"f":42.05,"v":-6.4},{"a":-0.982,"f":42.05,"v":-5},{"a":-0.785,"f":42.05,"v":-3.1},{"a":-0.589,"f":42.05,"v":-0.7},{"a":-0.393,"f":42.05,"v":-0.1},{"a":-0.196,"f":42.05,"v":0.1},{"a":0,"f":42.05,"v":0.3},{"a":0.196,"f":42.05,"v":1.5},{"a":0.393,"f":42.05,"v":3.2},{"a":0.589,"f":42.05,"v":4.8},{"a":0.785,"f":42.05,"v":5.6},{"a":0.982,"f":42.05,"v":6.4},{"a":1.178,"f":42.05,"v":6.9},{"a":1.374,"f":42.05,"v":7.2},
{"a":-1.571,"f":42.2,"v":-7.4},{"a":-1.374,"f":42.2,"v":-6.4},{"a":-1.178,"f":42.2,"v":-5.6},{"a":-0.982,"f":42.2,"v":-4.4},{"a":-0.785,"f":42.2,"v":-2.7},{"a":-0.589,"f":42.2,"v":-0.6},{"a":-0.393,"f":42.2,"v":-0.1},{"a":-0.196,"f":42.2,"v":0},{"a":0,"f":42.2,"v":0.3},{"a":0.196,"f":42.2,"v":1.3},{"a":0.393,"f":42.2,"v":2.8},{"a":0.589,"f":42.2,"v":4.2},{"a":0.785,"f":42.2,"v":4.8},{"a":0.982,"f":42.2,"v":5.5},{"a":1.178,"f":42.2,"v":6},{"a":1.374,"f":42.2,"v":6.2},
{"a":-1.571,"f":42.4,"v":-6.3},{"a":-1.374,"f":42.4,"v":-5.4},{"a":-1.178,"f":42.4,"v":-4.8},{"a":-0.982,"f":42.4,"v":-3.8},{"a":-0.785,"f":42.4,"v":-2.3},{"a":-0.589,"f":42.4,"v":-0.5},{"a":-0.393,"f":42.4,"v":-0.1},{"a":-0.196,"f":42.4,"v":0},{"a":0,"f":42.4,"v":0.3},{"a":0.196,"f":42.4,"v":1},{"a":0.393,"f":42.4,"v":2.2},{"a":0.589,"f":42.4,"v":3.3},{"a":0.785,"f":42.4,"v":3.8},{"a":0.982,"f":42.4,"v":4.4},{"a":1.178,"f":42.4,"v":4.7},{"a":1.374,"f":42.4,"v":4.9},
{"a":-1.571,"f":42.6,"v":-5.3},{"a":-1.374,"f":42.6,"v":-4.6},{"a":-1.178,"f":42.6,"v":-4},{"a":-0.982,"f":42.6,"v":-3.2},{"a":-0.785,"f":42.6,"v":-2},{"a":-0.589,"f":42.6,"v":-0.4},{"a":-0.393,"f":42.6,"v":-0.1},{"a":-0.196,"f":42.6,"v":0},{"a":0,"f":42.6,"v":0.1},{"a":0.196,"f":42.6,"v":0.8},{"a":0.393,"f":42.6,"v":1.8},{"a":0.589,"f":42.6,"v":2.6},{"a":0.785,"f":42.6,"v":3},{"a":0.982,"f":42.6,"v":3.5},{"a":1.178,"f":42.6,"v":3.7},{"a":1.374,"f":42.6,"v":3.9},
{"a":-1.571,"f":42.8,"v":-4.35},{"a":-1.374,"f":42.8,"v":-3.7},{"a":-1.178,"f":42.8,"v":-3.3},{"a":-0.982,"f":42.8,"v":-2.6},{"a":-0.785,"f":42.8,"v":-1.6},{"a":-0.589,"f":42.8,"v":-0.3},{"a":-0.393,"f":42.8,"v":0},{"a":-0.196,"f":42.8,"v":0},{"a":0,"f":42.8,"v":0.1},{"a":0.196,"f":42.8,"v":0.6},{"a":0.393,"f":42.8,"v":1.3},{"a":0.589,"f":42.8,"v":1.9},{"a":0.785,"f":42.8,"v":2.3},{"a":0.982,"f":42.8,"v":2.6},{"a":1.178,"f":42.8,"v":2.8},{"a":1.374,"f":42.8,"v":2.9},
{"a":-1.571,"f":43,"v":-3.5},{"a":-1.374,"f":43,"v":-3},{"a":-1.178,"f":43,"v":-2.7},{"a":-0.982,"f":43,"v":-2.1},{"a":-0.785,"f":43,"v":-1.3},{"a":-0.589,"f":43,"v":-0.3},{"a":-0.393,"f":43,"v":0},{"a":-0.196,"f":43,"v":0},{"a":0,"f":43,"v":0.1},{"a":0.196,"f":43,"v":0.4},{"a":0.393,"f":43,"v":0.9},{"a":0.589,"f":43,"v":1.3},{"a":0.785,"f":43,"v":1.6},{"a":0.982,"f":43,"v":1.8},{"a":1.178,"f":43,"v":1.9},{"a":1.374,"f":43,"v":2},
{"a":-1.571,"f":43.2,"v":-2.75},{"a":-1.374,"f":43.2,"v":-2.4},{"a":-1.178,"f":43.2,"v":-2.1},{"a":-0.982,"f":43.2,"v":-1.7},{"a":-0.785,"f":43.2,"v":-1},{"a":-0.589,"f":43.2,"v":-0.2},{"a":-0.393,"f":43.2,"v":0},{"a":-0.196,"f":43.2,"v":0},{"a":0,"f":43.2,"v":0.1},{"a":0.196,"f":43.2,"v":0.3},{"a":0.393,"f":43.2,"v":0.6},{"a":0.589,"f":43.2,"v":0.9},{"a":0.785,"f":43.2,"v":1},{"a":0.982,"f":43.2,"v":1.2},{"a":1.178,"f":43.2,"v":1.2},{"a":1.374,"f":43.2,"v":1.3},
{"a":-1.571,"f":43.4,"v":-2.1},{"a":-1.374,"f":43.4,"v":-1.8},{"a":-1.178,"f":43.4,"v":-1.6},{"a":-0.982,"f":43.4,"v":-1.3},{"a":-0.785,"f":43.4,"v":-0.8},{"a":-0.589,"f":43.4,"v":-0.2},{"a":-0.393,"f":43.4,"v":0},{"a":-0.196,"f":43.4,"v":0},{"a":0,"f":43.4,"v":0.1},{"a":0.196,"f":43.4,"v":0.1},{"a":0.393,"f":43.4,"v":0.3},{"a":0.589,"f":43.4,"v":0.5},{"a":0.785,"f":43.4,"v":0.5},{"a":0.982,"f":43.4,"v":0.6},{"a":1.178,"f":43.4,"v":0.7},{"a":1.374,"f":43.4,"v":0.7},
{"a":-1.571,"f":43.55,"v":-1.7},{"a":-1.374,"f":43.55,"v":-1.5},{"a":-1.178,"f":43.55,"v":-1.3},{"a":-0.982,"f":43.55,"v":-1},{"a":-0.785,"f":43.55,"v":-0.6},{"a":-0.589,"f":43.55,"v":-0.1},{"a":-0.393,"f":43.55,"v":0},{"a":-0.196,"f":43.55,"v":0},{"a":0,"f":43.55,"v":0},{"a":0.196,"f":43.55,"v":0.1},{"a":0.393,"f":43.55,"v":0.2},{"a":0.589,"f":43.55,"v":0.3},{"a":0.785,"f":43.55,"v":0.4},{"a":0.982,"f":43.55,"v":0.4},{"a":1.178,"f":43.55,"v":0.4},{"a":1.374,"f":43.55,"v":0.5},
{"a":-1.571,"f":43.7,"v":-1.35},{"a":-1.374,"f":43.7,"v":-1.2},{"a":-1.178,"f":43.7,"v":-1},{"a":-0.982,"f":43.7,"v":-0.8},{"a":-0.785,"f":43.7,"v":-0.5},{"a":-0.589,"f":43.7,"v":-0.1},{"a":-0.393,"f":43.7,"v":0},{"a":-0.196,"f":43.7,"v":0},{"a":0,"f":43.7,"v":0},{"a":0.196,"f":43.7,"v":0.1},{"a":0.393,"f":43.7,"v":0.1},{"a":0.589,"f":43.7,"v":0.2},{"a":0.785,"f":43.7,"v":0.2},{"a":0.982,"f":43.7,"v":0.3},{"a":1.178,"f":43.7,"v":0.3},{"a":1.374,"f":43.7,"v":0.3},
{"a":-1.571,"f":43.8,"v":-1.1},{"a":-1.374,"f":43.8,"v":-0.9},{"a":-1.178,"f":43.8,"v":-0.8},{"a":-0.982,"f":43.8,"v":-0.7},{"a":-0.785,"f":43.8,"v":-0.4},{"a":-0.589,"f":43.8,"v":-0.1},{"a":-0.393,"f":43.8,"v":0},{"a":-0.196,"f":43.8,"v":0},{"a":0,"f":43.8,"v":0},{"a":0.196,"f":43.8,"v":0},{"a":0.393,"f":43.8,"v":0.1},{"a":0.589,"f":43.8,"v":0.1},{"a":0.785,"f":43.8,"v":0.2},{"a":0.982,"f":43.8,"v":0.2},{"a":1.178,"f":43.8,"v":0.2},{"a":1.374,"f":43.8,"v":0.2},
{"a":-1.571,"f":43.9,"v":-0.9},{"a":-1.374,"f":43.9,"v":-0.8},{"a":-1.178,"f":43.9,"v":-0.7},{"a":-0.982,"f":43.9,"v":-0.5},{"a":-0.785,"f":43.9,"v":-0.3},{"a":-0.589,"f":43.9,"v":-0.1},{"a":-0.393,"f":43.9,"v":0},{"a":-0.196,"f":43.9,"v":0},{"a":0,"f":43.9,"v":0},{"a":0.196,"f":43.9,"v":0},{"a":0.393,"f":43.9,"v":0},{"a":0.589,"f":43.9,"v":0.1},{"a":0.785,"f":43.9,"v":0.1},{"a":0.982,"f":43.9,"v":0.1},{"a":1.178,"f":43.9,"v":0.1},{"a":1.374,"f":43.9,"v":0.1},
{"a":-1.571,"f":44,"v":-0.7},{"a":-1.374,"f":44,"v":-0.6},{"a":-1.178,"f":44,"v":-0.5},{"a":-0.982,"f":44,"v":-0.4},{"a":-0.785,"f":44,"v":-0.3},{"a":-0.589,"f":44,"v":-0.1},{"a":-0.393,"f":44,"v":0},{"a":-0.196,"f":44,"v":0},{"a":0,"f":44,"v":0},{"a":0.196,"f":44,"v":0},{"a":0.393,"f":44,"v":0},{"a":0.589,"f":44,"v":0},{"a":0.785,"f":44,"v":0},{"a":0.982,"f":44,"v":0},{"a":1.178,"f":44,"v":0},{"a":1.374,"f":44,"v":0}]
},
"encoding":{"x":{"field":"px","type":"quantitative","scale":{"domain":[0,700],"nice":false,"zero":false},"axis":null},"y":{"field":"py","type":"quantitative","scale":{"domain":[597,0],"nice":false,"zero":false},"axis":null}},
"layer":[
{"data":{"name":"dots"},"transform":[{"calculate":"304+74.5*(datum.a+2)-57.67*(datum.f-41)","as":"px"},{"calculate":"545-18.75*(datum.a+2)-42.67*(datum.f-41)-5.38*(datum.v+30)","as":"py"}],"mark":{"type":"line","stroke":"#333333","strokeWidth":1,"strokeDash":[1,10]},"encoding":{"detail":{"field":"id"}}},
{"data":{"name":"frame"},"transform":[{"calculate":"304+74.5*(datum.a+2)-57.67*(datum.f-41)","as":"px"},{"calculate":"545-18.75*(datum.a+2)-42.67*(datum.f-41)-5.38*(datum.v+30)","as":"py"}],"mark":{"type":"line","stroke":"#222222","strokeWidth":1.2},"encoding":{"detail":{"field":"id"}}},
{"data":{"values":[{"t":"30","a":-2,"f":44,"v":30},{"t":"20","a":-2,"f":44,"v":20},{"t":"10","a":-2,"f":44,"v":10},{"t":"0","a":-2,"f":44,"v":0},{"t":"−10","a":-2,"f":44,"v":-10},{"t":"−20","a":-2,"f":44,"v":-20},{"t":"−30","a":-2,"f":44,"v":-30}]},"transform":[{"calculate":"304+74.5*(datum.a+2)-57.67*(datum.f-41)","as":"px"},{"calculate":"545-18.75*(datum.a+2)-42.67*(datum.f-41)-5.38*(datum.v+30)","as":"py"}],"mark":{"type":"text","font":"Liberation Serif","fontSize":24,"align":"right","baseline":"middle","dx":-14,"dy":-10,"color":"#111111"},"encoding":{"text":{"field":"t"}}},
{"data":{"values":[{"t":"41","a":-2,"f":41,"v":-30},{"t":"42","a":-2,"f":42,"v":-30},{"t":"43","a":-2,"f":43,"v":-30},{"t":"44","a":-2,"f":44,"v":-30}]},"transform":[{"calculate":"304+74.5*(datum.a+2)-57.67*(datum.f-41)","as":"px"},{"calculate":"545-18.75*(datum.a+2)-42.67*(datum.f-41)-5.38*(datum.v+30)","as":"py"}],"mark":{"type":"text","font":"Liberation Serif","fontSize":24,"align":"center","baseline":"middle","dx":-30,"dy":15,"color":"#111111"},"encoding":{"text":{"field":"t"}}},
{"data":{"values":[{"t":"−2","a":-2,"f":41,"v":-30},{"t":"0","a":0,"f":41,"v":-30},{"t":"2","a":2,"f":41,"v":-30}]},"transform":[{"calculate":"304+74.5*(datum.a+2)-57.67*(datum.f-41)","as":"px"},{"calculate":"545-18.75*(datum.a+2)-42.67*(datum.f-41)-5.38*(datum.v+30)","as":"py"}],"mark":{"type":"text","font":"Liberation Serif","fontSize":24,"align":"right","baseline":"middle","dx":40,"dy":24,"color":"#111111"},"encoding":{"text":{"field":"t"}}},
{"data":{"values":[{"t":"velocity θ̇ᵣ/(rad/s)","a":-2,"f":45.23,"v":-9.8,"ang":270},{"t":"frequency f/kHz","a":-2,"f":44.45,"v":-61.4,"ang":0},{"t":"phase difference α/rad","a":1.356,"f":41,"v":-48.6,"ang":0}]},"transform":[{"calculate":"304+74.5*(datum.a+2)-57.67*(datum.f-41)","as":"px"},{"calculate":"545-18.75*(datum.a+2)-42.67*(datum.f-41)-5.38*(datum.v+30)","as":"py"}],"mark":{"type":"text","font":"Liberation Serif","fontSize":26,"align":"center","baseline":"middle","color":"#111111"},"encoding":{"text":{"field":"t"},"angle":{"field":"ang","type":"quantitative","scale":null}}},
{"data":{"name":"sheets"},"transform":[{"window":[{"op":"row_number","as":"o"}]},{"calculate":"304+74.5*(datum.a+2)-57.67*(datum.f-41)","as":"px"},{"calculate":"545-18.75*(datum.a+2)-42.67*(datum.f-41)-5.38*(datum.v+30)","as":"py"}],"mark":{"type":"line","stroke":"#000000","strokeWidth":1.2,"strokeJoin":"round"},"encoding":{"order":{"field":"o","type":"quantitative"},"detail":{"field":"s"},"fill":{"field":"tau","type":"nominal","scale":{"domain":["0.0082","0.0368","0.0427","0.0785","0.0981","0.1508","0.2087","0.2477","0.3195","0.3664","0.4484"],"range":["#00009f","#0000ff","#0055ff","#00aaff","#00ffff","#55ffaa","#aaff55","#ffff00","#ffaa00","#ff5500","#ff0000"]},"legend":{"title":null,"orient":"none","legendX":138,"legendY":5,"fillColor":"white","strokeColor":"black","padding":6,"symbolType":"M0.6,-1.1H15.8V1.1H0.6Z","symbolSize":100,"symbolStrokeColor":"#111111","symbolStrokeWidth":1,"symbolOpacity":1,"rowPadding":1,"labelFont":"Liberation Serif","labelFontSize":13,"labelColor":"#111111","labelOffset":81,"labelExpr":"'τₒₚ\u00a0\u00a0\u00a0= '+datum.label+' Nm'"}}}},
{"data":{"name":"patches"},"transform":[{"window":[{"op":"row_number","as":"o"}]},{"calculate":"304+74.5*(datum.a+2)-57.67*(datum.f-41)","as":"px"},{"calculate":"545-18.75*(datum.a+2)-42.67*(datum.f-41)-5.38*(datum.v+30)","as":"py"}],"mark":{"type":"line","strokeWidth":0},"encoding":{"order":{"field":"o","type":"quantitative"},"detail":{"field":"s"},"fill":{"field":"tau","type":"nominal","legend":null}}},
{"data":{"name":"sheets"},"transform":[{"filter":"datum.f==41"},{"calculate":"304+74.5*(datum.a+2)-57.67*(datum.f-41)","as":"px"},{"calculate":"545-18.75*(datum.a+2)-42.67*(datum.f-41)-5.38*(datum.v+30)","as":"py"}],"mark":{"type":"line","stroke":"#000000","strokeWidth":1},"encoding":{"detail":{"field":"a"},"order":{"field":"v"}}},
{"data":{"name":"grid"},"transform":[{"calculate":"304+74.5*(datum.a+2)-57.67*(datum.f-41)","as":"px"},{"calculate":"545-18.75*(datum.a+2)-42.67*(datum.f-41)-5.38*(datum.v+30)","as":"py"}],"mark":{"type":"line","stroke":"#000000","strokeWidth":1.2},"encoding":{"detail":{"field":"f"},"order":{"field":"a"}}},
{"data":{"name":"grid"},"transform":[{"calculate":"304+74.5*(datum.a+2)-57.67*(datum.f-41)","as":"px"},{"calculate":"545-18.75*(datum.a+2)-42.67*(datum.f-41)-5.38*(datum.v+30)","as":"py"}],"mark":{"type":"line","stroke":"#000000","strokeWidth":1.2},"encoding":{"detail":{"field":"a"},"order":{"field":"f"}}}
]}
